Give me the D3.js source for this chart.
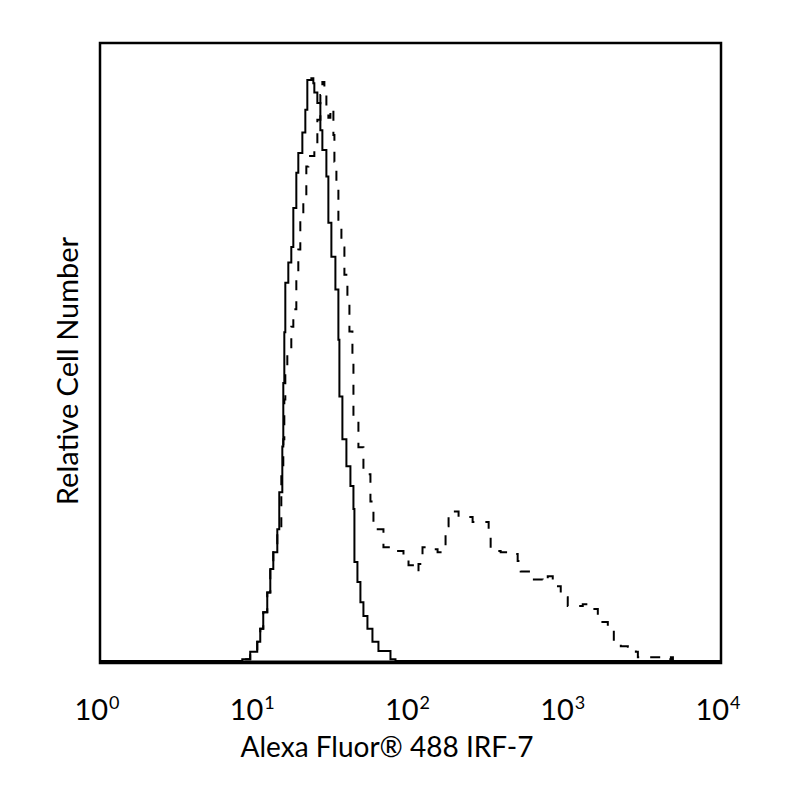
<!DOCTYPE html>
<html>
<head>
<meta charset="utf-8">
<script src="https://cdn.jsdelivr.net/npm/d3@7"></script>
<style>
  html, body { margin: 0; padding: 0; background: #fff; }
  svg text { font-family: Lato, "Open Sans", sans-serif; fill: #000; }
</style>
</head>
<body>
<div id="chart"></div>
<script>
// isotype control (solid line): fluorescence intensity vs relative count
const isotypeIntensity = [1, 7.43, 8.25, 9.28, 10.3, 10.77, 11.26, 11.95, 12.5, 13.07, 13.87, 14.28, 14.94, 15.16, 15.39,
  15.62, 16.33, 17.07, 17.59, 18.39, 18.94, 20.11, 21.02, 21.65, 22.98, 23.67, 24.02, 25.12, 26.27, 27.06, 28.72,
  29.58, 30.93, 32.83, 34.32, 34.84, 36.42, 38.65, 41.02, 42.9, 43.53, 45.52, 47.58, 49.75, 52.8, 56.87, 62.16,
  74.3, 80.03, 10000];
const isotypeCount = [0, 0, 0.3, 1.5, 3.1, 5.2, 7.9, 11.1, 14.9, 17.6, 21.3, 27.3, 34.7, 45, 53.2,
  61.2, 64.5, 67.0, 73.3, 79.0, 82.2, 85.5, 89.2, 94.0, 94.3, 93.5, 92.0, 90.3, 85.9, 82.7, 78.4,
  70.9, 65.4, 60.1, 52.0, 42.8, 35.9, 31.5, 28.3, 24.6, 16.0, 12.8, 9.5, 7.3, 5.2, 3.1, 1.6,
  0.3, 0, 0];

// IRF-7 stained (dashed line)
const irf7Intensity = [1, 7.43, 8.25, 9.28, 10.3, 10.77, 11.26, 11.95, 12.5, 13.07, 13.87, 14.72, 15.16, 15.39,
  15.62, 16.09, 17.07, 17.59, 18.39, 18.94, 19.51, 20.4, 21.33, 21.98, 24.02, 25.12, 26.27, 27.06, 27.88,
  28.72, 29.58, 30.48, 31.87, 32.35, 33.32, 34.32, 35.89, 37.52, 39.23, 40.42, 42.26, 42.9, 46.19, 49.75,
  55.2, 57.72, 66.95, 74.3, 90.1, 97.1, 111.0, 112.6, 119.5, 128.8, 149.4, 156.2, 168.2, 175.9, 189.4,
  204.0, 251.2, 282.9, 318.7, 328.3, 380.8, 441.8, 490.1, 512.5, 612.5, 710.6, 765.6, 824.6, 836.9,
  928.4, 1030, 1287, 1450, 1494, 1609, 1866, 2040, 2263, 2512, 2829, 2914, 3381, 4102, 4758, 4901, 10000];
const irf7Count = [0, 0, 0.3, 1.5, 3.1, 5.2, 7.9, 11.1, 14.9, 17.6, 21.3, 31.0, 35.9, 42.3,
  47.2, 49.9, 54.1, 56.9, 61.7, 66.6, 71.9, 75.1, 80.0, 81.7, 83.0, 87.6, 91.6, 93.7, 92.4,
  89.2, 87.9, 89.5, 85.1, 80.8, 76.3, 71.4, 66.9, 62.5, 58.2, 53.3, 49.1, 39.1, 34.6, 30.2,
  25.8, 21.3, 18.4, 17.8, 16.5, 15.5, 14.5, 15.7, 18.4, 18.1, 17.6, 18.4, 21.8, 23.4, 24.2,
  23.3, 22.5, 22.5, 20.0, 17.8, 17.6, 17.3, 16.2, 14.5, 13.2, 12.8, 13.7, 12.8, 12.1,
  10.3, 8.9, 9.2, 8.9, 8.4, 6.3, 5.7, 3.1, 2.4, 2.3, 1.5, 0.6, 0.6, 0.3, 0.6, 0, 0];

const tickValues = [1, 10, 100, 1000, 10000];
const tickExponents = ["0", "1", "2", "3", "4"];

const xTitle = "Alexa Fluor® 488 IRF-7";
const yTitle = "Relative Cell Number";

const W = 800, H = 800;
const margin = {left: 100, top: 43, right: 79, bottom: 137};

const svg = d3.select("#chart").append("svg")
  .attr("width", W)
  .attr("height", H);

const x = d3.scaleLog()
  .domain([1, 10000])
  .range([margin.left, W - margin.right]);

const y = d3.scaleLinear()
  .domain([0, 100])
  .range([H - margin.bottom - 2, margin.top]);

const line = d3.line()
  .x(d => x(d[0]))
  .y(d => y(d[1]))
  .curve(d3.curveStepAfter);

// frame
svg.append("rect")
  .attr("x", margin.left)
  .attr("y", margin.top)
  .attr("width", W - margin.left - margin.right)
  .attr("height", H - margin.top - margin.bottom)
  .attr("fill", "none")
  .attr("stroke", "#000")
  .attr("stroke-width", 2.5);

svg.append("path")
  .attr("d", line(d3.zip(irf7Intensity, irf7Count)))
  .attr("fill", "none")
  .attr("stroke", "#000")
  .attr("stroke-width", 2)
  .attr("stroke-dasharray", "10,11");

svg.append("path")
  .attr("d", line(d3.zip(isotypeIntensity, isotypeCount)))
  .attr("fill", "none")
  .attr("stroke", "#000")
  .attr("stroke-width", 2);

// baseline looks heavier in the original
svg.append("line")
  .attr("x1", margin.left)
  .attr("x2", W - margin.right)
  .attr("y1", y(0) + 1)
  .attr("y2", y(0) + 1)
  .attr("stroke", "#000")
  .attr("stroke-width", 3);

// tick labels 10^n, no tick marks in the original
const labels = svg.append("g")
  .selectAll("text")
  .data(tickValues)
  .enter()
  .append("text")
    .attr("x", d => x(d) - 3)
    .attr("y", 720)
    .attr("text-anchor", "middle")
    .attr("font-size", 29);
labels.append("tspan").text("10");
labels.append("tspan")
  .attr("dx", 1)
  .attr("dy", -11)
  .attr("font-size", 18)
  .text((d, i) => tickExponents[i]);

svg.append("text")
  .attr("x", 387)
  .attr("y", 757)
  .attr("text-anchor", "middle")
  .attr("font-size", 28)
  .text(xTitle);

svg.append("text")
  .attr("transform", "translate(78,371) rotate(-90)")
  .attr("text-anchor", "middle")
  .attr("font-size", 29)
  .text(yTitle);
</script>
</body>
</html>
